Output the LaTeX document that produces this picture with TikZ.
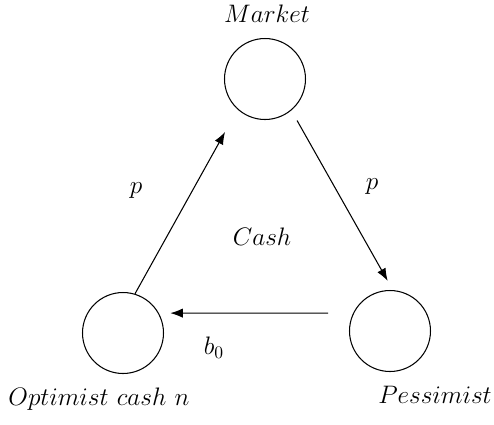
\documentclass[tikz,border=0pt]{standalone}
\usepackage{amsmath}
\usepackage{tikz}
\usetikzlibrary{positioning,arrows.meta}

\begin{document}
\begin{tikzpicture}[
  x=0.02cm, y=-0.02cm,
  font=\fontsize{14.5}{17}\selectfont,
  agent/.style={draw, circle, semithick, minimum size=1.62cm, inner sep=0pt},
  arrow/.style={-{Latex[length=2.5mm]}, semithick}
]
\useasboundingbox (0,0) rectangle (494,424);
\node[agent] (market) at (265,79) {};
\node[agent] (optimist) at (123,333) {};
\node[agent] (pessimist) at (390,331) {};
\node (marketlbl) at (267,14) {$Market$};
\node (optimistlbl) at (99,399) {$Optimist\ cash\ n$};
\node (pessimistlbl) at (435,395) {$Pessimist$};
\node (cash) at (262,237) {$Cash$};
\node (pbuy) at (136,191) {$p$};
\node (psell) at (372,187) {$p$};
\node (bond) at (214,348) {$b_0$};
\draw[arrow, shorten >=14.6pt] (optimist.73) -- (market.228);
\draw[arrow, shorten <=6.6pt, shorten >=6pt] (market.-50) -- (pessimist.86);
\draw[arrow, shorten <=14.2pt, shorten >=6.5pt] (pessimist.154) -- (optimist.29);
\end{tikzpicture}
\end{document}
